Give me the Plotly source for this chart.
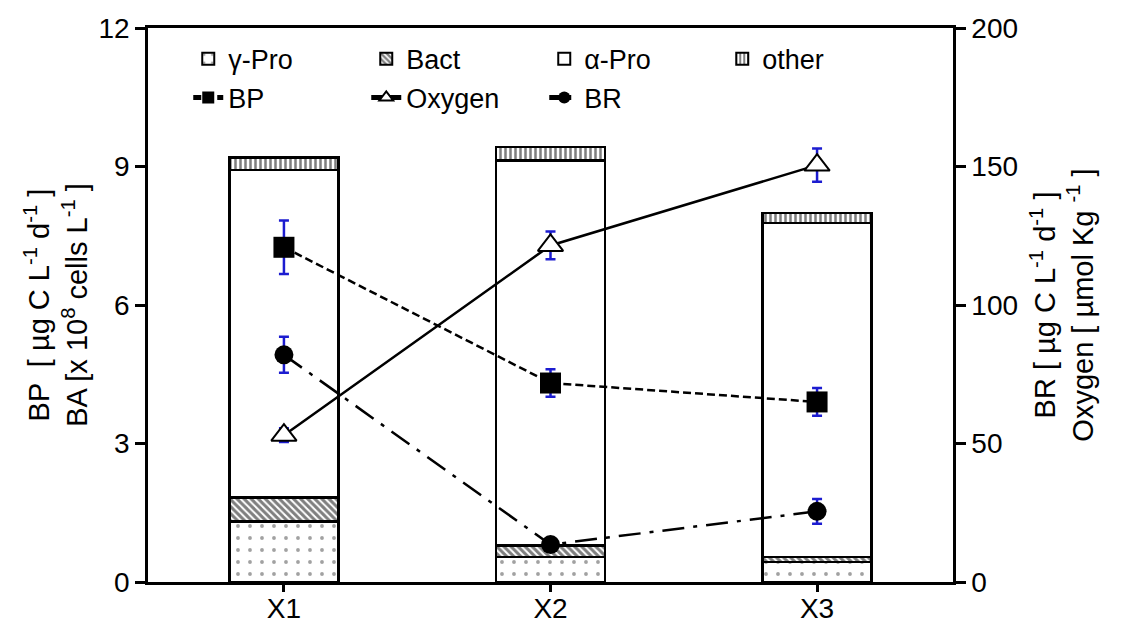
import plotly.graph_objects as go

stations = ["X1", "X2", "X3"]

# stacked bacterial abundance components (x 10^8 cells L-1)
gamma_pro = [1.31, 0.54, 0.43]
bact = [0.52, 0.25, 0.11]
alpha_pro = [7.09, 8.34, 7.24]
other = [0.27, 0.29, 0.21]

# lines
bp = [7.25, 4.31, 3.90]
bp_err = [0.58, 0.30, 0.30]
br = [82.0, 13.5, 25.5]
br_err = [6.5, 1.0, 4.5]
oxygen = [53.0, 121.5, 150.5]
oxygen_err = [2.5, 5.0, 6.0]

FONT = "Liberation Sans, Arial, sans-serif"
ERR_COLOR = "#1c1cd0"

fig = go.Figure()

bar_common = dict(x=stations, width=0.41, yaxis="y", legend="legend")
fig.add_trace(go.Bar(name="γ-Pro", y=gamma_pro, **bar_common,
                     marker=dict(color="white", line=dict(color="black", width=2.5),
                                 pattern=dict(shape=".", fgcolor="#444444", bgcolor="white",
                                              size=12, solidity=0.08))))
fig.add_trace(go.Bar(name="Bact", y=bact, **bar_common,
                     marker=dict(color="white", line=dict(color="black", width=2.5),
                                 pattern=dict(shape="\\", fgcolor="black", bgcolor="white",
                                              size=5, solidity=0.6))))
fig.add_trace(go.Bar(name="α-Pro", y=alpha_pro, **bar_common,
                     marker=dict(color="white", line=dict(color="black", width=2.5))))
fig.add_trace(go.Bar(name="other", y=other, **bar_common,
                     marker=dict(color="white", line=dict(color="black", width=2.5),
                                 pattern=dict(shape="|", fgcolor="black", bgcolor="white",
                                              size=5, solidity=0.5))))

fig.add_trace(go.Scatter(name="BP", x=stations, y=bp, yaxis="y", legend="legend2",
                         mode="lines+markers",
                         line=dict(color="black", width=2.5, dash="8px,4px"),
                         marker=dict(symbol="square", size=21, color="black"),
                         error_y=dict(type="data", array=bp_err, color=ERR_COLOR,
                                      thickness=2.5, width=5)))
fig.add_trace(go.Scatter(name="Oxygen", x=stations, y=oxygen, yaxis="y2", legend="legend2",
                         mode="lines+markers",
                         line=dict(color="black", width=2.5),
                         marker=dict(symbol="triangle-up", size=22, color="white",
                                     line=dict(color="black", width=2)),
                         error_y=dict(type="data", array=oxygen_err, color=ERR_COLOR,
                                      thickness=2.5, width=5)))
fig.add_trace(go.Scatter(name="BR", x=stations, y=br, yaxis="y2", legend="legend2",
                         mode="lines+markers",
                         line=dict(color="black", width=2.5, dash="22px,9px,4px,9px"),
                         marker=dict(symbol="circle", size=19, color="black"),
                         error_y=dict(type="data", array=br_err, color=ERR_COLOR,
                                      thickness=2.5, width=5)))

axis_common = dict(showline=True, linecolor="black", linewidth=2.5, ticks="outside",
                   tickwidth=2.5, tickcolor="black", showgrid=False, zeroline=False,
                   tickfont=dict(size=28), automargin=False)

fig.update_layout(
    width=1131, height=630,
    margin=dict(l=140, r=186, t=20, b=56, autoexpand=False),
    paper_bgcolor="white", plot_bgcolor="white",
    font=dict(family=FONT, size=27, color="black"),
    barmode="stack",
    xaxis=dict(range=[-0.51, 2.51], mirror=True, ticklen=7, ticklabelstandoff=-7,
               **axis_common),
    yaxis=dict(range=[0, 12], tickvals=[0, 3, 6, 9, 12], ticklen=10, **axis_common,
               title=dict(text="BP  [ µg C L<sup>-1</sup> d<sup>-1</sup> ]<br>BA [x 10<sup>8</sup> cells L<sup>-1</sup> ]",
                          font=dict(size=29), standoff=3)),
    yaxis2=dict(range=[0, 200], tickvals=[0, 50, 100, 150, 200], overlaying="y", side="right",
                ticklen=10, **axis_common,
                title=dict(text="BR [ µg C L<sup>-1</sup> d<sup>-1</sup> ]<br>Oxygen [ µmol Kg <sup>-1</sup> ]",
                           font=dict(size=29), standoff=18)),
    legend=dict(orientation="h", x=0.05, y=0.988, xanchor="left", yanchor="top",
                entrywidth=133, entrywidthmode="pixels", traceorder="normal",
                bgcolor="rgba(0,0,0,0)", font=dict(size=27), itemsizing="constant"),
    legend2=dict(orientation="h", x=0.05, y=0.918, xanchor="left", yanchor="top",
                 entrywidth=133, entrywidthmode="pixels", traceorder="normal",
                 bgcolor="rgba(0,0,0,0)", font=dict(size=27), itemsizing="constant"),
    showlegend=True,
)

fig.write_html("out.html")
